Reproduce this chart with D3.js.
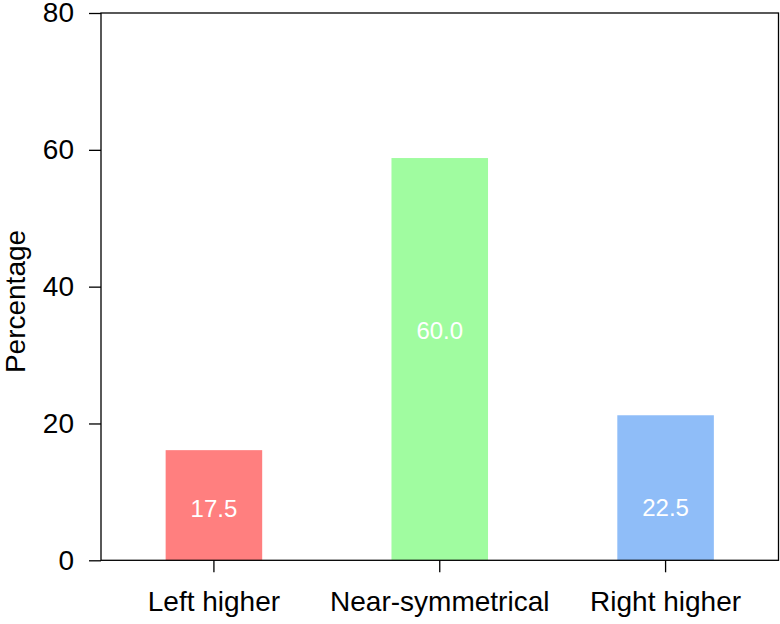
<!DOCTYPE html>
<html>
<head>
<meta charset="utf-8">
<script src="https://cdn.jsdelivr.net/npm/d3@7"></script>
<style>
  html, body { margin: 0; padding: 0; background: #ffffff; }
  svg { display: block; font-family: "Liberation Sans", Arial, Helvetica, sans-serif; }
</style>
</head>
<body>
<svg id="chart" width="780" height="624"></svg>
<script>
// ---- data ----
const categories = ["Left higher", "Near-symmetrical", "Right higher"];
const barHeights = [16.1, 58.8, 21.2];          // bar tops as drawn in the picture
const barLabels  = ["17.5", "60.0", "22.5"];    // printed labels
const labelAt    = [7.6, 33.6, 7.7];            // value where each label sits
const barColors  = ["#ff7f7f", "#a0fca0", "#8fbdf8"];
const yTicks     = [0, 20, 40, 60, 80];
const yTitle     = "Percentage";

// ---- layout ----
const svg = d3.select("#chart");
const mLeft = 101, mRight = 778.5, mTop = 13, mBottom = 560.3;

const x = d3.scaleBand().domain(categories).range([mLeft, mRight]).padding(0);
const y = d3.scaleLinear().domain([0, 80]).range([mBottom, mTop]);
const barW = x.bandwidth() * 0.4275;

// bars
svg.append("g").selectAll("rect")
  .data(categories)
  .join("rect")
  .attr("x", (d) => x(d) + x.bandwidth() / 2 - barW / 2)
  .attr("y", (d, i) => y(barHeights[i]))
  .attr("width", barW)
  .attr("height", (d, i) => y(0) - y(barHeights[i]))
  .attr("fill", (d, i) => barColors[i]);

// bar labels
svg.append("g").selectAll("text")
  .data(categories)
  .join("text")
  .attr("x", (d) => x(d) + x.bandwidth() / 2)
  .attr("y", (d, i) => y(labelAt[i]))
  .attr("dy", "0.36em")
  .attr("text-anchor", "middle")
  .attr("fill", "#ffffff")
  .attr("font-size", 24)
  .text((d, i) => barLabels[i]);

// panel box
svg.append("rect")
  .attr("x", mLeft).attr("y", mTop)
  .attr("width", mRight - mLeft).attr("height", mBottom - mTop)
  .attr("fill", "none").attr("stroke", "#000").attr("stroke-width", 1.3);

// y axis
const yAxis = svg.append("g")
  .attr("transform", `translate(${mLeft},0)`)
  .call(d3.axisLeft(y).tickValues(yTicks).tickSize(12).tickPadding(15).tickFormat(d3.format("d")));
yAxis.select(".domain").remove();
yAxis.selectAll("line").attr("stroke", "#000").attr("stroke-width", 1.3);
yAxis.selectAll("text").attr("font-size", 28).attr("fill", "#000")
  .attr("font-family", "'Liberation Sans', Arial, Helvetica, sans-serif");

// x axis
const xAxis = svg.append("g")
  .attr("transform", `translate(0,${mBottom})`)
  .call(d3.axisBottom(x).tickSize(12).tickPadding(19));
xAxis.select(".domain").remove();
xAxis.selectAll("line").attr("stroke", "#000").attr("stroke-width", 1.3);
xAxis.selectAll("text").attr("font-size", 28).attr("fill", "#000")
  .attr("font-family", "'Liberation Sans', Arial, Helvetica, sans-serif");

// y title
svg.append("text")
  .attr("transform", `translate(25,301.5) rotate(-90)`)
  .attr("text-anchor", "middle")
  .attr("font-size", 28)
  .attr("fill", "#000")
  .text(yTitle);
</script>
</body>
</html>
